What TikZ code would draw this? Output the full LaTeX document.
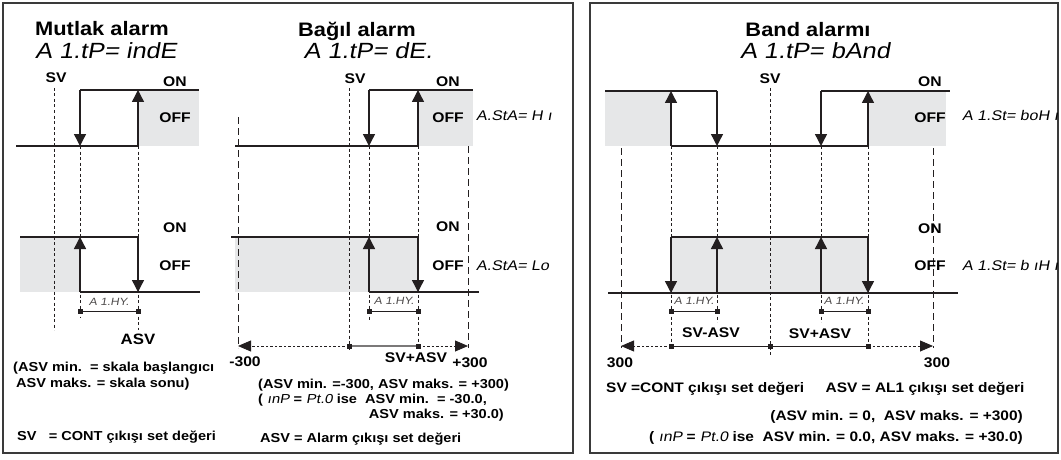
\documentclass[tikz,border=0pt]{standalone}
\usepackage{fontspec}
\setmainfont{Liberation Sans}[FakeStretch=1.12]
\newfontfamily\segfont{Liberation Sans}[FakeStretch=1.15,FakeSlant=0.18]
\usetikzlibrary{arrows.meta}
\definecolor{cLine}{HTML}{231F20}
\definecolor{cFill}{HTML}{E6E7E8}
\definecolor{cFrame}{HTML}{3A3A3A}
\newcommand{\seg}{\segfont\mdseries}
\newcommand{\blk}[2]{\fill[cLine] (#1-2.5,#2-2.5) rectangle (#1+2.5,#2+2.5);}

\begin{document}
\begin{tikzpicture}[x=1pt, y=-1pt, font=\bfseries, >={Triangle[width=12pt,length=12pt]},
  sig/.style={line width=1.4pt, draw=cLine},
  fdash/.style={line width=0.7pt, draw=cLine, dash pattern=on 3pt off 2.5pt},
  ldash/.style={line width=0.8pt, draw=cLine, dash pattern=on 7pt off 4pt},
  rng/.style={line width=0.8pt, draw=cLine, dash pattern=on 2.5pt off 2pt},
  rtip/.style={-{Triangle[width=11pt,length=13pt]}},
  hys/.style={line width=0.8pt, draw=cLine},
  ttl/.style={inner sep=0, font=\fontsize{19.5}{22}\selectfont\bfseries},
  disp/.style={inner sep=0, font=\fontsize{22}{24}\selectfont\seg},
  sdisp/.style={inner sep=0, font=\fontsize{14}{16}\selectfont\seg},
  hylab/.style={inner sep=0, font=\fontsize{10.5}{12}\selectfont\seg, text=cLine!80},
  lab/.style={inner sep=0, font=\fontsize{14}{16}\selectfont\bfseries},
  txt/.style={inner sep=0, font=\fontsize{13}{15}\selectfont\bfseries},
  txtb/.style={inner sep=0, font=\fontsize{13.8}{15}\selectfont\bfseries}]
\useasboundingbox (0,0) rectangle (1061,460);

% frames
\draw[cFrame, line width=1.3pt] (3,3) rectangle (573,453);
\draw[cFrame, line width=1.3pt] (590,3) rectangle (1058,453);

% ---- Mutlak alarm
\node[ttl, anchor=base west] (tMut) at (35,36) {Mutlak alarm};
\node[disp, anchor=base west] (dMut) at (35,59) {A 1.tP= indE};
\node[lab, anchor=base] (svMut) at (56,83) {SV};
\fill[cFill] (138,90) rectangle (199,146);
\fill[cFill] (20,237) rectangle (80,292);
\draw[fdash] (54,88) -- (54,330);
\draw[fdash] (80,146) -- (80,318);
\draw[fdash] (138,146) -- (138,330);
\draw[sig] (16,146) -- (138,146);
\draw[sig] (80,90) -- (199,90);
\draw[sig,->] (80,90) -- (80,146);
\draw[sig,->] (138,146) -- (138,90);
\draw[sig] (20,237) -- (138,237);
\draw[sig] (80,292) -- (200,292);
\draw[sig,->] (80,292) -- (80,237);
\draw[sig,->] (138,237) -- (138,292);
\node[lab, anchor=base] (onMa) at (175,87) {ON};
\node[lab, anchor=base] (offMa) at (175,122) {OFF};
\node[lab, anchor=base] (onMb) at (175,232) {ON};
\node[lab, anchor=base] (offMb) at (175,270) {OFF};
\node[hylab, anchor=base] (hyM) at (109,305) {A 1.HY.};
\draw[hys] (80,311) -- (138,311);
\blk{80}{311} \blk{138}{311}
\node[lab, font=\fontsize{15}{17}\selectfont\bfseries, anchor=base] (asvM) at (138,344) {ASV};
\node[txt, anchor=base west] (mnM) at (13,371) {(ASV min.\ \ = skala başlangıcı};
\node[txt, anchor=base west] (mxM) at (16,387) {ASV maks. = skala sonu)};
\node[txt, anchor=base west] (svdef) at (17,440) {SV\ \ \ = CONT çıkışı set değeri};

% ---- Bagil alarm
\node[ttl, anchor=base] (tBag) at (357,37) {Bağıl alarm};
\node[disp, anchor=base] (dBag) at (368,59) {A 1.tP= dE.};
\node[lab, anchor=base] (svBag) at (355,84) {SV};
\fill[cFill] (418,90) rectangle (473,146);
\fill[cFill] (235,237) rectangle (418,292);
\draw[ldash] (238,117) -- (238,348);
\draw[ldash] (468,146) -- (468,348);
\draw[fdash] (349,88) -- (349,350);
\draw[fdash] (369,146) -- (369,320);
\draw[fdash] (418,146) -- (418,346);
\draw[sig] (235,146) -- (418,146);
\draw[sig] (369,90) -- (473,90);
\draw[sig,->] (369,90) -- (369,146);
\draw[sig,->] (418,146) -- (418,90);
\draw[sig] (231,237) -- (418,237);
\draw[sig] (369,292) -- (479,292);
\draw[sig,->] (369,292) -- (369,237);
\draw[sig,->] (418,237) -- (418,292);
\node[lab, anchor=base] (onBa) at (448,87) {ON};
\node[lab, anchor=base] (offBa) at (448,122) {OFF};
\node[sdisp, anchor=base west] (hiB) at (476,121) {A.StA= H ı};
\node[lab, anchor=base] (onBb) at (448,231) {ON};
\node[lab, anchor=base] (offBb) at (448,270) {OFF};
\node[sdisp, anchor=base west] (loB) at (476,270) {A.StA= Lo};
\node[hylab, anchor=base] (hyB) at (394,304) {A 1.HY.};
\draw[hys] (369,311) -- (418,311);
\blk{369}{311} \blk{418}{311}
\draw[rng,rtip] (349,346) -- (238,346);
\draw[hys, draw=cLine!60, line width=1.2pt] (349,346) -- (418,346);
\draw[rng,rtip] (418,346) -- (468,346);
\blk{349}{346} \blk{418}{346}
\node[lab, anchor=base] (lowB) at (245,366) {-300};
\node[lab, anchor=base] (sumB) at (416,362) {SV+ASV};
\node[lab, anchor=base] (highB) at (470,367) {+300};
\node[txt, anchor=base west] (r1B) at (258,388) {(ASV min. =-300, ASV maks. = +300)};
\node[txt, anchor=base west] (r2B) at (258,403) {( {\seg ınP} = {\seg Pt.0} ise\ \ ASV min.\ \ = -30.0,};
\node[txt, anchor=base east] (r3B) at (504,418) {ASV maks. = +30.0)};
\node[txt, anchor=base west] (asvdef) at (260,442) {ASV = Alarm çıkışı set değeri};

% ---- Band alarmi
\node[ttl, anchor=base] (tBnd) at (808,37) {Band alarmı};
\node[disp, anchor=base] (dBnd) at (815,59) {A 1.tP= bAnd};
\node[lab, anchor=base] (svBnd) at (770,84) {SV};
\fill[cFill] (605,91) rectangle (671,146);
\fill[cFill] (868,91) rectangle (946,146);
\fill[cFill] (671,237) rectangle (868,293);
\draw[ldash] (621,148) -- (621,348);
\draw[ldash] (933,148) -- (933,348);
\draw[fdash] (770,88) -- (770,355);
\draw[fdash] (671,146) -- (671,346);
\draw[fdash] (717,146) -- (717,322);
\draw[fdash] (821,146) -- (821,322);
\draw[fdash] (868,146) -- (868,346);
\draw[sig] (605,91) -- (717,91);
\draw[sig] (671,146) -- (868,146);
\draw[sig] (821,91) -- (950,91);
\draw[sig,->] (671,146) -- (671,91);
\draw[sig,->] (717,91) -- (717,146);
\draw[sig,->] (821,91) -- (821,146);
\draw[sig,->] (868,146) -- (868,91);
\draw[sig] (608,293) -- (958,293);
\draw[sig] (671,237) -- (868,237);
\draw[sig,->] (671,237) -- (671,293);
\draw[sig,->] (717,293) -- (717,237);
\draw[sig,->] (821,293) -- (821,237);
\draw[sig,->] (868,237) -- (868,293);
\node[lab, anchor=base] (onNa) at (930,87) {ON};
\node[lab, anchor=base] (offNa) at (930,122) {OFF};
\node[sdisp, anchor=base west] (boN) at (962,121) {A 1.St= boH ı};
\node[lab, anchor=base] (onNb) at (930,233) {ON};
\node[lab, anchor=base] (offNb) at (930,270) {OFF};
\node[sdisp, anchor=base west] (biN) at (962,270) {A 1.St= b ıH ı};
\node[hylab, anchor=base] (hyNa) at (694,304) {A 1.HY.};
\node[hylab, anchor=base] (hyNb) at (844,304) {A 1.HY.};
\draw[hys] (671,311) -- (717,311);
\draw[hys] (821,311) -- (868,311);
\blk{671}{311} \blk{717}{311} \blk{821}{311} \blk{868}{311}
\draw[rng,rtip] (671,346) -- (621,346);
\draw[hys] (671,346) -- (868,346);
\draw[rng,rtip] (868,346) -- (933,346);
\blk{671}{346} \blk{770}{346} \blk{868}{346}
\node[lab, anchor=base] (difN) at (711,337) {SV-ASV};
\node[lab, anchor=base] (sumN) at (820,338) {SV+ASV};
\node[lab, anchor=base] (lowN) at (620,367) {300};
\node[lab, anchor=base] (highN) at (937,367) {300};
\node[txtb, anchor=base west] (defN) at (606,392) {SV =CONT çıkışı set değeri\ \ \ \ \ ASV = AL1 çıkışı set değeri};
\node[txtb, anchor=base east] (r1N) at (1023,420) {(ASV min. = 0,\ \ ASV maks. = +300)};
\node[txtb, anchor=base east] (r2N) at (1023,441) {( {\seg ınP} = {\seg Pt.0} ise\ \ ASV min. = 0.0, ASV maks. = +30.0)};
\end{tikzpicture}
\end{document}
